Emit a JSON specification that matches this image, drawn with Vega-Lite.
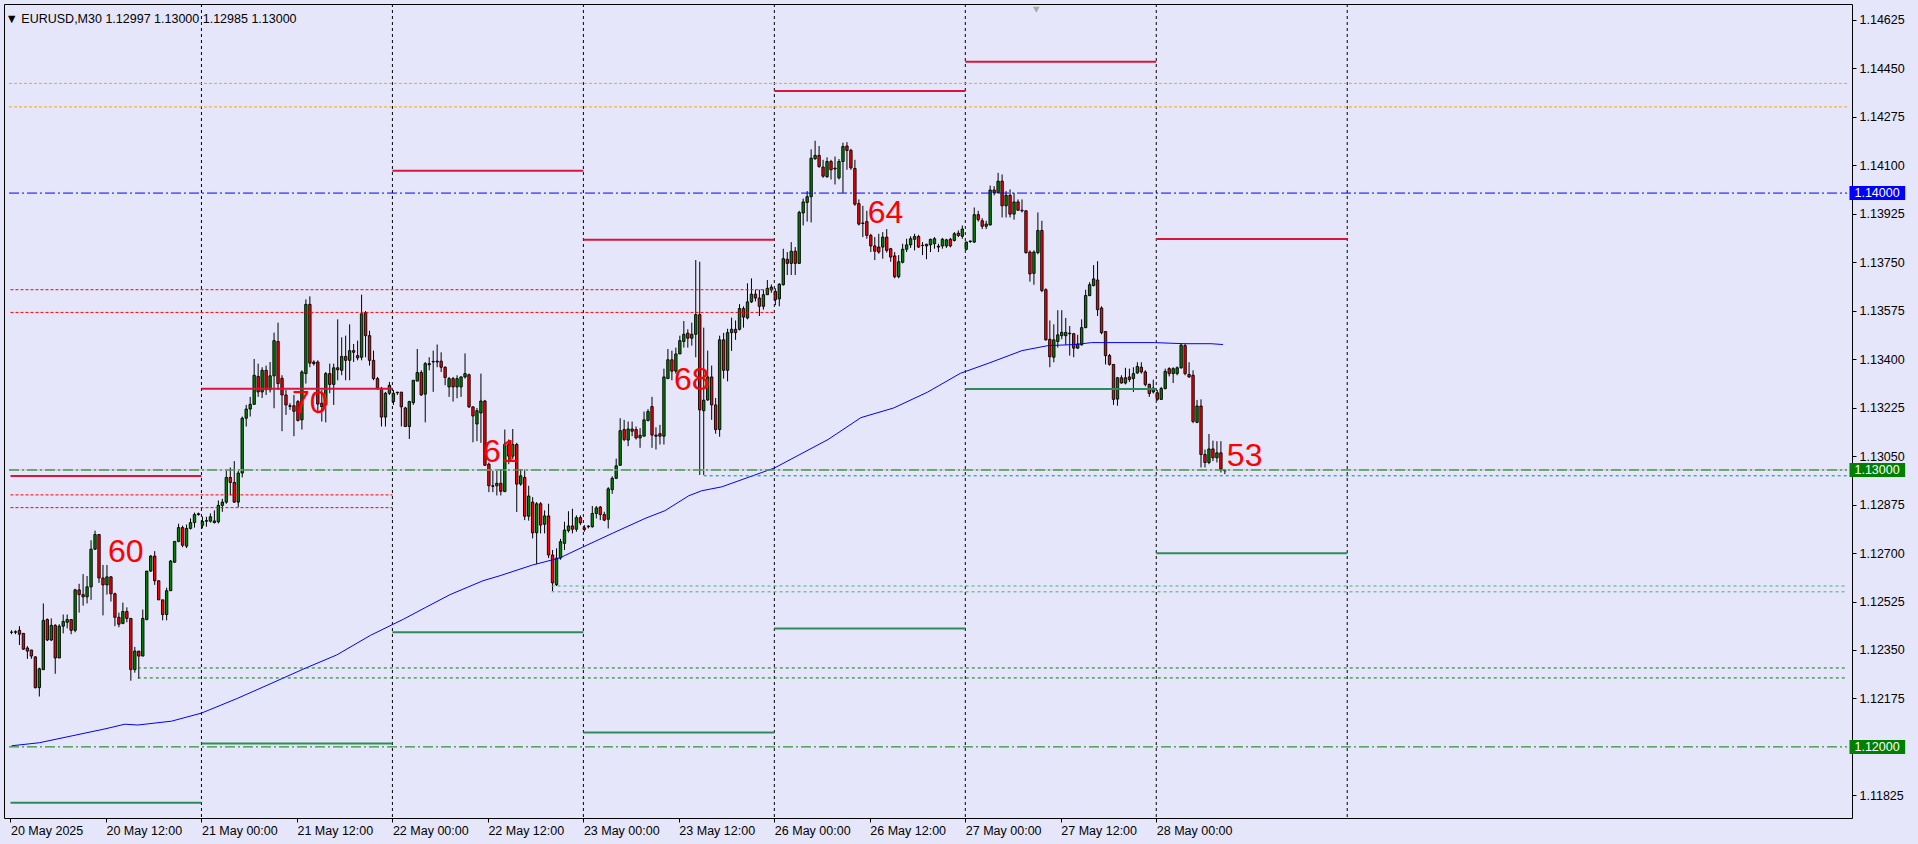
{
"$schema": "https://vega.github.io/schema/vega-lite/v6.json",
"width": 1848, "height": 814,
"autosize": {"type": "none"},
"padding": {"left": 4, "top": 4, "right": 66, "bottom": 26},
"background": "#E6E6FA",
"config": {"view": {"stroke": "#000000", "strokeWidth": 1, "fill": "#E6E6FA"}, "font": "Liberation Sans", "axis": {"grid": false, "domain": false}},
"resolve": {"scale": {"color": "independent", "strokeDash": "independent"}},
"datasets": {
"header": [{"t": "▼  EURUSD,M30  1.12997 1.13000 1.12985 1.13000"}],
"marker": [{"i": 257.6, "p": 1.14662}],
"seps": [{"i": 47.75}, {"i": 95.75}, {"i": 143.75}, {"i": 191.75}, {"i": 239.75}, {"i": 287.75}, {"i": 335.75}],
"candles": [
{"i":0,"o":1.12414,"h":1.12421,"l":1.12407,"c":1.12414},
{"i":1,"o":1.12414,"h":1.12421,"l":1.12407,"c":1.12416},
{"i":2,"o":1.12421,"h":1.12436,"l":1.12368,"c":1.12407},
{"i":3,"o":1.1241,"h":1.1241,"l":1.1235,"c":1.12353},
{"i":4,"o":1.12357,"h":1.12364,"l":1.12318,"c":1.12346},
{"i":5,"o":1.1235,"h":1.1235,"l":1.12318,"c":1.12328},
{"i":6,"o":1.12325,"h":1.12328,"l":1.12211,"c":1.12214},
{"i":7,"o":1.12214,"h":1.12286,"l":1.12182,"c":1.12282},
{"i":8,"o":1.12279,"h":1.12518,"l":1.12279,"c":1.12457},
{"i":9,"o":1.1246,"h":1.12464,"l":1.12382,"c":1.12386},
{"i":10,"o":1.12386,"h":1.12464,"l":1.12382,"c":1.12439},
{"i":11,"o":1.12439,"h":1.12443,"l":1.12264,"c":1.12321},
{"i":12,"o":1.12321,"h":1.12443,"l":1.12321,"c":1.12436},
{"i":13,"o":1.12436,"h":1.12478,"l":1.1241,"c":1.12453},
{"i":14,"o":1.1245,"h":1.12478,"l":1.12428,"c":1.1246},
{"i":15,"o":1.1246,"h":1.1246,"l":1.12407,"c":1.12421},
{"i":16,"o":1.12421,"h":1.12571,"l":1.12414,"c":1.12567},
{"i":17,"o":1.12567,"h":1.12589,"l":1.12485,"c":1.1255},
{"i":18,"o":1.1255,"h":1.12624,"l":1.1251,"c":1.12542},
{"i":19,"o":1.12542,"h":1.12617,"l":1.12518,"c":1.12578},
{"i":20,"o":1.12578,"h":1.12746,"l":1.12531,"c":1.12714},
{"i":21,"o":1.12714,"h":1.12781,"l":1.12711,"c":1.12767},
{"i":22,"o":1.12767,"h":1.12767,"l":1.12592,"c":1.1261},
{"i":23,"o":1.1261,"h":1.12657,"l":1.12475,"c":1.12585},
{"i":24,"o":1.12585,"h":1.12657,"l":1.1255,"c":1.12614},
{"i":25,"o":1.12614,"h":1.12617,"l":1.12525,"c":1.12553},
{"i":26,"o":1.12553,"h":1.12557,"l":1.12436,"c":1.12468},
{"i":27,"o":1.12468,"h":1.12485,"l":1.12432,"c":1.12443},
{"i":28,"o":1.12446,"h":1.12521,"l":1.12443,"c":1.12489},
{"i":29,"o":1.12489,"h":1.12504,"l":1.1245,"c":1.12464},
{"i":30,"o":1.12464,"h":1.12464,"l":1.12239,"c":1.12279},
{"i":31,"o":1.12279,"h":1.12361,"l":1.12268,"c":1.12346},
{"i":32,"o":1.12346,"h":1.12346,"l":1.12246,"c":1.12328},
{"i":33,"o":1.12328,"h":1.12496,"l":1.12328,"c":1.12464},
{"i":34,"o":1.1246,"h":1.12635,"l":1.12457,"c":1.12635},
{"i":35,"o":1.12635,"h":1.12693,"l":1.12632,"c":1.12689},
{"i":36,"o":1.12689,"h":1.12707,"l":1.12585,"c":1.126},
{"i":37,"o":1.126,"h":1.126,"l":1.12531,"c":1.12531},
{"i":38,"o":1.12531,"h":1.12531,"l":1.12457,"c":1.12478},
{"i":39,"o":1.12478,"h":1.12575,"l":1.12457,"c":1.12564},
{"i":40,"o":1.12564,"h":1.12675,"l":1.12564,"c":1.12671},
{"i":41,"o":1.12667,"h":1.12742,"l":1.12664,"c":1.12742},
{"i":42,"o":1.12742,"h":1.12806,"l":1.12739,"c":1.12792},
{"i":43,"o":1.12792,"h":1.12799,"l":1.12721,"c":1.12728},
{"i":44,"o":1.12725,"h":1.12803,"l":1.12718,"c":1.12789},
{"i":45,"o":1.12789,"h":1.12825,"l":1.12785,"c":1.1281},
{"i":46,"o":1.1281,"h":1.12846,"l":1.12792,"c":1.12839},
{"i":47,"o":1.12842,"h":1.12846,"l":1.12835,"c":1.12839},
{"i":48,"o":1.128,"h":1.12832,"l":1.12789,"c":1.12814},
{"i":49,"o":1.12815,"h":1.12831,"l":1.12795,"c":1.12817},
{"i":50,"o":1.12815,"h":1.12843,"l":1.1281,"c":1.12831},
{"i":51,"o":1.1281,"h":1.12854,"l":1.12807,"c":1.12816},
{"i":52,"o":1.12813,"h":1.1289,"l":1.12807,"c":1.12872},
{"i":53,"o":1.12872,"h":1.12896,"l":1.12849,"c":1.12884},
{"i":54,"o":1.12884,"h":1.12997,"l":1.12878,"c":1.12973},
{"i":55,"o":1.12973,"h":1.13009,"l":1.12908,"c":1.12955},
{"i":56,"o":1.12955,"h":1.13032,"l":1.12881,"c":1.12884},
{"i":57,"o":1.12884,"h":1.12997,"l":1.12866,"c":1.12989},
{"i":58,"o":1.12989,"h":1.13193,"l":1.12973,"c":1.13187},
{"i":59,"o":1.13187,"h":1.13235,"l":1.13157,"c":1.1322},
{"i":60,"o":1.1322,"h":1.13264,"l":1.13193,"c":1.13237},
{"i":61,"o":1.13237,"h":1.13401,"l":1.13237,"c":1.13342},
{"i":62,"o":1.13338,"h":1.13384,"l":1.13264,"c":1.13282},
{"i":63,"o":1.13282,"h":1.13371,"l":1.1326,"c":1.1336},
{"i":64,"o":1.1336,"h":1.13377,"l":1.13271,"c":1.1329},
{"i":65,"o":1.1329,"h":1.1339,"l":1.1328,"c":1.1334},
{"i":66,"o":1.1334,"h":1.13496,"l":1.13223,"c":1.13467},
{"i":67,"o":1.13464,"h":1.13532,"l":1.13289,"c":1.13312},
{"i":68,"o":1.13331,"h":1.13342,"l":1.1314,"c":1.13271},
{"i":69,"o":1.13271,"h":1.13289,"l":1.13199,"c":1.13235},
{"i":70,"o":1.13232,"h":1.13241,"l":1.13217,"c":1.1323},
{"i":71,"o":1.13232,"h":1.13271,"l":1.13122,"c":1.13212},
{"i":72,"o":1.13247,"h":1.13253,"l":1.13175,"c":1.13179},
{"i":73,"o":1.13181,"h":1.1336,"l":1.13146,"c":1.13354},
{"i":74,"o":1.13348,"h":1.13616,"l":1.13312,"c":1.13598},
{"i":75,"o":1.13598,"h":1.13627,"l":1.13371,"c":1.13386},
{"i":76,"o":1.1339,"h":1.13396,"l":1.13377,"c":1.13384},
{"i":77,"o":1.1339,"h":1.13396,"l":1.13205,"c":1.13238},
{"i":78,"o":1.13241,"h":1.13289,"l":1.13175,"c":1.13229},
{"i":79,"o":1.13235,"h":1.13354,"l":1.13172,"c":1.13348},
{"i":80,"o":1.13348,"h":1.13384,"l":1.13277,"c":1.13309},
{"i":81,"o":1.13309,"h":1.13384,"l":1.13235,"c":1.13369},
{"i":82,"o":1.13369,"h":1.13544,"l":1.13324,"c":1.13362},
{"i":83,"o":1.1336,"h":1.13479,"l":1.13342,"c":1.1341},
{"i":84,"o":1.1341,"h":1.13485,"l":1.13324,"c":1.13396},
{"i":85,"o":1.13396,"h":1.13526,"l":1.13324,"c":1.13431},
{"i":86,"o":1.13431,"h":1.13455,"l":1.1339,"c":1.13425},
{"i":87,"o":1.13413,"h":1.13467,"l":1.13396,"c":1.13405},
{"i":88,"o":1.13407,"h":1.13633,"l":1.13396,"c":1.13564},
{"i":89,"o":1.13568,"h":1.13574,"l":1.13407,"c":1.13485},
{"i":90,"o":1.13485,"h":1.13503,"l":1.13377,"c":1.13396},
{"i":91,"o":1.13396,"h":1.13431,"l":1.13324,"c":1.1333},
{"i":92,"o":1.1333,"h":1.13336,"l":1.13289,"c":1.13295},
{"i":93,"o":1.13295,"h":1.133,"l":1.13157,"c":1.13191},
{"i":94,"o":1.13191,"h":1.13282,"l":1.13157,"c":1.13277},
{"i":95,"o":1.13277,"h":1.13318,"l":1.13271,"c":1.13306},
{"i":96,"o":1.13247,"h":1.13289,"l":1.13235,"c":1.13277},
{"i":97,"o":1.13279,"h":1.13282,"l":1.13271,"c":1.13281},
{"i":98,"o":1.13281,"h":1.13282,"l":1.13157,"c":1.13228},
{"i":99,"o":1.13224,"h":1.13228,"l":1.13155,"c":1.13157},
{"i":100,"o":1.13157,"h":1.1325,"l":1.13112,"c":1.13247},
{"i":101,"o":1.13243,"h":1.13324,"l":1.13235,"c":1.13324},
{"i":102,"o":1.13321,"h":1.13437,"l":1.13321,"c":1.13352},
{"i":103,"o":1.13352,"h":1.1336,"l":1.13268,"c":1.13271},
{"i":104,"o":1.13274,"h":1.1339,"l":1.13172,"c":1.13384},
{"i":105,"o":1.1338,"h":1.13407,"l":1.1336,"c":1.13384},
{"i":106,"o":1.1339,"h":1.13431,"l":1.13282,"c":1.13392},
{"i":107,"o":1.1339,"h":1.13453,"l":1.13371,"c":1.13393},
{"i":108,"o":1.13393,"h":1.13425,"l":1.13354,"c":1.13371},
{"i":109,"o":1.13371,"h":1.13374,"l":1.13306,"c":1.13334},
{"i":110,"o":1.133,"h":1.13336,"l":1.13264,"c":1.1333},
{"i":111,"o":1.1333,"h":1.13336,"l":1.13247,"c":1.133},
{"i":112,"o":1.133,"h":1.13342,"l":1.13259,"c":1.1333},
{"i":113,"o":1.133,"h":1.13338,"l":1.13264,"c":1.13336},
{"i":114,"o":1.13336,"h":1.13421,"l":1.1333,"c":1.13348},
{"i":115,"o":1.13344,"h":1.13348,"l":1.13224,"c":1.13228},
{"i":116,"o":1.13228,"h":1.13229,"l":1.131,"c":1.13195},
{"i":117,"o":1.13166,"h":1.13224,"l":1.13104,"c":1.13214},
{"i":118,"o":1.13206,"h":1.13348,"l":1.13098,"c":1.13249},
{"i":119,"o":1.13249,"h":1.13253,"l":1.13015,"c":1.13017},
{"i":120,"o":1.13021,"h":1.13027,"l":1.1292,"c":1.12943},
{"i":121,"o":1.12943,"h":1.12997,"l":1.1292,"c":1.12941},
{"i":122,"o":1.12943,"h":1.12997,"l":1.12908,"c":1.12952},
{"i":123,"o":1.12952,"h":1.13003,"l":1.12908,"c":1.12923},
{"i":124,"o":1.12922,"h":1.13146,"l":1.1292,"c":1.13092},
{"i":125,"o":1.13092,"h":1.1311,"l":1.13021,"c":1.1305},
{"i":126,"o":1.1305,"h":1.13148,"l":1.13039,"c":1.13092},
{"i":127,"o":1.13092,"h":1.13098,"l":1.12848,"c":1.12949},
{"i":128,"o":1.12949,"h":1.13003,"l":1.12943,"c":1.12979},
{"i":129,"o":1.12973,"h":1.13003,"l":1.12819,"c":1.12833},
{"i":130,"o":1.12833,"h":1.12943,"l":1.12817,"c":1.12906},
{"i":131,"o":1.12884,"h":1.12902,"l":1.12753,"c":1.12773},
{"i":132,"o":1.12773,"h":1.12884,"l":1.1266,"c":1.12878},
{"i":133,"o":1.12878,"h":1.12884,"l":1.12771,"c":1.12801},
{"i":134,"o":1.12804,"h":1.12854,"l":1.12771,"c":1.12834},
{"i":135,"o":1.12834,"h":1.12878,"l":1.12682,"c":1.12693},
{"i":136,"o":1.12693,"h":1.12711,"l":1.12563,"c":1.12592},
{"i":137,"o":1.12586,"h":1.12717,"l":1.12581,"c":1.12682},
{"i":138,"o":1.12682,"h":1.12751,"l":1.12676,"c":1.12741},
{"i":139,"o":1.12735,"h":1.12813,"l":1.12711,"c":1.12783},
{"i":140,"o":1.12781,"h":1.12851,"l":1.12774,"c":1.12798},
{"i":141,"o":1.12798,"h":1.1286,"l":1.12771,"c":1.12786},
{"i":142,"o":1.12786,"h":1.12836,"l":1.12777,"c":1.12828},
{"i":143,"o":1.12828,"h":1.12836,"l":1.12801,"c":1.12809},
{"i":144,"o":1.12791,"h":1.12801,"l":1.12777,"c":1.12785},
{"i":145,"o":1.12795,"h":1.12801,"l":1.12789,"c":1.12797},
{"i":146,"o":1.12795,"h":1.1287,"l":1.12792,"c":1.12843},
{"i":147,"o":1.12843,"h":1.1287,"l":1.12825,"c":1.12863},
{"i":148,"o":1.12866,"h":1.1287,"l":1.12819,"c":1.12839},
{"i":149,"o":1.12839,"h":1.12849,"l":1.12815,"c":1.12819},
{"i":150,"o":1.12822,"h":1.12938,"l":1.12789,"c":1.12932},
{"i":151,"o":1.12929,"h":1.12977,"l":1.12914,"c":1.1297},
{"i":152,"o":1.1297,"h":1.13041,"l":1.12967,"c":1.13015},
{"i":153,"o":1.13017,"h":1.13187,"l":1.13015,"c":1.13142},
{"i":154,"o":1.13146,"h":1.13181,"l":1.13104,"c":1.1311},
{"i":155,"o":1.13108,"h":1.13175,"l":1.13086,"c":1.13148},
{"i":156,"o":1.13148,"h":1.13175,"l":1.13122,"c":1.1314},
{"i":157,"o":1.13146,"h":1.13157,"l":1.1311,"c":1.13116},
{"i":158,"o":1.13116,"h":1.13151,"l":1.1308,"c":1.13125},
{"i":159,"o":1.13122,"h":1.13211,"l":1.13122,"c":1.13181},
{"i":160,"o":1.13179,"h":1.1322,"l":1.13175,"c":1.13211},
{"i":161,"o":1.13229,"h":1.13264,"l":1.1308,"c":1.13126},
{"i":162,"o":1.13126,"h":1.13154,"l":1.13074,"c":1.13122},
{"i":163,"o":1.13131,"h":1.13163,"l":1.13092,"c":1.13122},
{"i":164,"o":1.13122,"h":1.13366,"l":1.13092,"c":1.13336},
{"i":165,"o":1.1333,"h":1.13437,"l":1.1333,"c":1.13398},
{"i":166,"o":1.13398,"h":1.13431,"l":1.13324,"c":1.13357},
{"i":167,"o":1.13357,"h":1.13442,"l":1.13348,"c":1.13419},
{"i":168,"o":1.13419,"h":1.13485,"l":1.13419,"c":1.13467},
{"i":169,"o":1.13464,"h":1.13538,"l":1.13442,"c":1.1349},
{"i":170,"o":1.13494,"h":1.13508,"l":1.13442,"c":1.13476},
{"i":171,"o":1.13476,"h":1.13532,"l":1.13449,"c":1.1349},
{"i":172,"o":1.1349,"h":1.13758,"l":1.13407,"c":1.13561},
{"i":173,"o":1.13561,"h":1.13752,"l":1.12982,"c":1.13217},
{"i":174,"o":1.13214,"h":1.13514,"l":1.12982,"c":1.13252},
{"i":175,"o":1.13253,"h":1.13431,"l":1.1325,"c":1.13336},
{"i":176,"o":1.13336,"h":1.13377,"l":1.13181,"c":1.13235},
{"i":177,"o":1.13235,"h":1.1326,"l":1.13131,"c":1.13146},
{"i":178,"o":1.13146,"h":1.13485,"l":1.1312,"c":1.1347},
{"i":179,"o":1.1347,"h":1.13495,"l":1.1333,"c":1.1336},
{"i":180,"o":1.1336,"h":1.1351,"l":1.1332,"c":1.13496},
{"i":181,"o":1.13496,"h":1.1355,"l":1.1343,"c":1.13508},
{"i":182,"o":1.13508,"h":1.1354,"l":1.1347,"c":1.13496},
{"i":183,"o":1.13508,"h":1.13599,"l":1.13504,"c":1.13583},
{"i":184,"o":1.13583,"h":1.13591,"l":1.13514,"c":1.13552},
{"i":185,"o":1.13549,"h":1.13674,"l":1.13544,"c":1.13607},
{"i":186,"o":1.13607,"h":1.13692,"l":1.13603,"c":1.13635},
{"i":187,"o":1.13635,"h":1.13651,"l":1.13609,"c":1.13621},
{"i":188,"o":1.13621,"h":1.13651,"l":1.13556,"c":1.13591},
{"i":189,"o":1.13591,"h":1.13651,"l":1.13579,"c":1.13633},
{"i":190,"o":1.13633,"h":1.13686,"l":1.13633,"c":1.13656},
{"i":191,"o":1.1365,"h":1.1367,"l":1.1364,"c":1.1366},
{"i":192,"o":1.13645,"h":1.13656,"l":1.13595,"c":1.13615},
{"i":193,"o":1.13618,"h":1.13674,"l":1.13591,"c":1.13671},
{"i":194,"o":1.13669,"h":1.13799,"l":1.13666,"c":1.13763},
{"i":195,"o":1.13761,"h":1.13787,"l":1.13704,"c":1.13746},
{"i":196,"o":1.13746,"h":1.13823,"l":1.13704,"c":1.1379},
{"i":197,"o":1.1379,"h":1.13805,"l":1.13704,"c":1.13746},
{"i":198,"o":1.13746,"h":1.13936,"l":1.13746,"c":1.1393},
{"i":199,"o":1.13928,"h":1.1398,"l":1.13883,"c":1.13968},
{"i":200,"o":1.13966,"h":1.14007,"l":1.13897,"c":1.13987},
{"i":201,"o":1.13987,"h":1.14158,"l":1.13894,"c":1.14126},
{"i":202,"o":1.14124,"h":1.14189,"l":1.1412,"c":1.14136},
{"i":203,"o":1.14136,"h":1.1417,"l":1.14091,"c":1.14096},
{"i":204,"o":1.14094,"h":1.1412,"l":1.14055,"c":1.14061},
{"i":205,"o":1.14059,"h":1.14129,"l":1.14055,"c":1.14114},
{"i":206,"o":1.14114,"h":1.1412,"l":1.14049,"c":1.14084},
{"i":207,"o":1.1409,"h":1.14132,"l":1.14031,"c":1.14087},
{"i":208,"o":1.14055,"h":1.14123,"l":1.14049,"c":1.14114},
{"i":209,"o":1.14114,"h":1.14182,"l":1.14001,"c":1.14168},
{"i":210,"o":1.1417,"h":1.14184,"l":1.14084,"c":1.14154},
{"i":211,"o":1.14154,"h":1.1416,"l":1.14084,"c":1.14091},
{"i":212,"o":1.14089,"h":1.1412,"l":1.13954,"c":1.1396},
{"i":213,"o":1.13962,"h":1.13977,"l":1.13883,"c":1.13888},
{"i":214,"o":1.13892,"h":1.13954,"l":1.13841,"c":1.1389},
{"i":215,"o":1.13897,"h":1.13936,"l":1.13835,"c":1.13847},
{"i":216,"o":1.13847,"h":1.13853,"l":1.13787,"c":1.13809},
{"i":217,"o":1.13809,"h":1.13841,"l":1.13758,"c":1.1379},
{"i":218,"o":1.13805,"h":1.13853,"l":1.13781,"c":1.13787},
{"i":219,"o":1.13805,"h":1.13859,"l":1.13763,"c":1.13841},
{"i":220,"o":1.13841,"h":1.1387,"l":1.13785,"c":1.13793},
{"i":221,"o":1.13799,"h":1.13802,"l":1.13752,"c":1.13769},
{"i":222,"o":1.13773,"h":1.13787,"l":1.13692,"c":1.13698},
{"i":223,"o":1.13698,"h":1.13776,"l":1.13692,"c":1.13752},
{"i":224,"o":1.1375,"h":1.13817,"l":1.13746,"c":1.13797},
{"i":225,"o":1.13797,"h":1.13835,"l":1.13787,"c":1.13813},
{"i":226,"o":1.13813,"h":1.13844,"l":1.13802,"c":1.13835},
{"i":227,"o":1.13833,"h":1.13853,"l":1.13793,"c":1.13843},
{"i":228,"o":1.13843,"h":1.13849,"l":1.13802,"c":1.13805},
{"i":229,"o":1.13811,"h":1.13823,"l":1.13776,"c":1.13811},
{"i":230,"o":1.13809,"h":1.13817,"l":1.13761,"c":1.13815},
{"i":231,"o":1.13813,"h":1.13835,"l":1.13787,"c":1.13833},
{"i":232,"o":1.13817,"h":1.13841,"l":1.13799,"c":1.13835},
{"i":233,"o":1.13808,"h":1.13817,"l":1.13787,"c":1.13805},
{"i":234,"o":1.13809,"h":1.13838,"l":1.13799,"c":1.13833},
{"i":235,"o":1.13809,"h":1.13835,"l":1.13802,"c":1.13831},
{"i":236,"o":1.13833,"h":1.13838,"l":1.13804,"c":1.13809},
{"i":237,"o":1.13829,"h":1.13859,"l":1.13825,"c":1.13853},
{"i":238,"o":1.13855,"h":1.13865,"l":1.13841,"c":1.13847},
{"i":239,"o":1.13844,"h":1.13883,"l":1.13835,"c":1.1387},
{"i":240,"o":1.13797,"h":1.13825,"l":1.13793,"c":1.13823},
{"i":241,"o":1.13825,"h":1.13828,"l":1.1382,"c":1.13827},
{"i":242,"o":1.13823,"h":1.13948,"l":1.1382,"c":1.13922},
{"i":243,"o":1.13922,"h":1.13936,"l":1.13897,"c":1.13904},
{"i":244,"o":1.139,"h":1.13909,"l":1.1387,"c":1.1388},
{"i":245,"o":1.1388,"h":1.139,"l":1.1387,"c":1.13888},
{"i":246,"o":1.13885,"h":1.14027,"l":1.13883,"c":1.14011},
{"i":247,"o":1.14011,"h":1.14025,"l":1.13992,"c":1.14001},
{"i":248,"o":1.14001,"h":1.14073,"l":1.13999,"c":1.14043},
{"i":249,"o":1.14043,"h":1.14067,"l":1.13912,"c":1.13954},
{"i":250,"o":1.13954,"h":1.14007,"l":1.13912,"c":1.13992},
{"i":251,"o":1.13992,"h":1.14013,"l":1.13912,"c":1.13924},
{"i":252,"o":1.13924,"h":1.14001,"l":1.13904,"c":1.13968},
{"i":253,"o":1.13968,"h":1.13977,"l":1.13936,"c":1.13938},
{"i":254,"o":1.13938,"h":1.13977,"l":1.1393,"c":1.13936},
{"i":255,"o":1.13936,"h":1.13938,"l":1.13781,"c":1.13785},
{"i":256,"o":1.13787,"h":1.13793,"l":1.1368,"c":1.13708},
{"i":257,"o":1.1371,"h":1.13793,"l":1.13669,"c":1.13787},
{"i":258,"o":1.13785,"h":1.1393,"l":1.13779,"c":1.13865},
{"i":259,"o":1.13865,"h":1.139,"l":1.13642,"c":1.13648},
{"i":260,"o":1.13651,"h":1.13656,"l":1.13467,"c":1.1347},
{"i":261,"o":1.13472,"h":1.1354,"l":1.13371,"c":1.13409},
{"i":262,"o":1.13407,"h":1.13526,"l":1.13389,"c":1.1347},
{"i":263,"o":1.13464,"h":1.13577,"l":1.13442,"c":1.13488},
{"i":264,"o":1.13485,"h":1.13577,"l":1.13472,"c":1.13497},
{"i":265,"o":1.13485,"h":1.13549,"l":1.13452,"c":1.13497},
{"i":266,"o":1.13494,"h":1.1352,"l":1.13413,"c":1.13492},
{"i":267,"o":1.13492,"h":1.13495,"l":1.13407,"c":1.1344},
{"i":268,"o":1.1344,"h":1.13488,"l":1.13437,"c":1.13455},
{"i":269,"o":1.13452,"h":1.13544,"l":1.13449,"c":1.13514},
{"i":270,"o":1.13514,"h":1.13651,"l":1.13512,"c":1.1363},
{"i":271,"o":1.1363,"h":1.13678,"l":1.13627,"c":1.13669},
{"i":272,"o":1.13666,"h":1.1374,"l":1.13663,"c":1.1369},
{"i":273,"o":1.13686,"h":1.13754,"l":1.13556,"c":1.13579},
{"i":274,"o":1.13585,"h":1.13591,"l":1.1349,"c":1.13496},
{"i":275,"o":1.135,"h":1.13502,"l":1.13381,"c":1.13413},
{"i":276,"o":1.13413,"h":1.13419,"l":1.13377,"c":1.13381},
{"i":277,"o":1.13381,"h":1.13383,"l":1.13235,"c":1.13255},
{"i":278,"o":1.13256,"h":1.13336,"l":1.13232,"c":1.13333},
{"i":279,"o":1.13333,"h":1.13342,"l":1.13312,"c":1.13314},
{"i":280,"o":1.13314,"h":1.13369,"l":1.13309,"c":1.13333},
{"i":281,"o":1.13336,"h":1.13366,"l":1.13318,"c":1.13327},
{"i":282,"o":1.1333,"h":1.13371,"l":1.13282,"c":1.13348},
{"i":283,"o":1.1335,"h":1.13389,"l":1.13348,"c":1.13374},
{"i":284,"o":1.13371,"h":1.13389,"l":1.13348,"c":1.13354},
{"i":285,"o":1.13354,"h":1.1336,"l":1.13302,"c":1.13309},
{"i":286,"o":1.13309,"h":1.13312,"l":1.13264,"c":1.13276},
{"i":287,"o":1.13282,"h":1.13326,"l":1.13276,"c":1.13296},
{"i":288,"o":1.13279,"h":1.13289,"l":1.1325,"c":1.13255},
{"i":289,"o":1.13255,"h":1.133,"l":1.13253,"c":1.13294},
{"i":290,"o":1.13294,"h":1.13366,"l":1.13291,"c":1.13356},
{"i":291,"o":1.13366,"h":1.13371,"l":1.13338,"c":1.13348},
{"i":292,"o":1.13348,"h":1.13371,"l":1.13314,"c":1.13366},
{"i":293,"o":1.13348,"h":1.13374,"l":1.13342,"c":1.13369},
{"i":294,"o":1.13369,"h":1.13457,"l":1.13366,"c":1.13451},
{"i":295,"o":1.13449,"h":1.13457,"l":1.13342,"c":1.13348},
{"i":296,"o":1.13345,"h":1.13389,"l":1.13333,"c":1.13336},
{"i":297,"o":1.13342,"h":1.1336,"l":1.13169,"c":1.13175},
{"i":298,"o":1.13172,"h":1.13253,"l":1.13169,"c":1.13231},
{"i":299,"o":1.13231,"h":1.13255,"l":1.13009,"c":1.13056},
{"i":300,"o":1.13056,"h":1.13074,"l":1.13009,"c":1.13027},
{"i":301,"o":1.13027,"h":1.1313,"l":1.13021,"c":1.13076},
{"i":302,"o":1.13076,"h":1.13106,"l":1.13032,"c":1.13044},
{"i":303,"o":1.13044,"h":1.13104,"l":1.13027,"c":1.13062},
{"i":304,"o":1.13062,"h":1.13104,"l":1.12991,"c":1.13003},
{"i":305,"o":1.12997,"h":1.13,"l":1.12985,"c":1.13}
],
"ma": [
{"i":0,"p":1.12004},{"i":7,"p":1.12015},{"i":15.25,"p":1.1204},{"i":23.5,"p":1.12065},{"i":28.5,"p":1.12082},{"i":31.75,"p":1.12079},{"i":40.25,"p":1.12093},{"i":47.75,"p":1.12122},{"i":56.75,"p":1.12175},{"i":65.25,"p":1.12229},{"i":73.5,"p":1.12282},{"i":81.75,"p":1.12332},{"i":90.25,"p":1.12403},{"i":98.5,"p":1.12461},{"i":104,"p":1.12503},{"i":110.25,"p":1.1255},{"i":118.5,"p":1.126},{"i":122.75,"p":1.12618},{"i":131,"p":1.12657},{"i":137.75,"p":1.12682},{"i":143.5,"p":1.12721},{"i":151,"p":1.12771},{"i":159.25,"p":1.12825},{"i":164.25,"p":1.12853},{"i":170.25,"p":1.12907},{"i":173.5,"p":1.12925},{"i":178.5,"p":1.12939},{"i":191.75,"p":1.13007},{"i":205.25,"p":1.1311},{"i":213.5,"p":1.13189},{"i":221.75,"p":1.13224},{"i":230.25,"p":1.13281},{"i":238.5,"p":1.13349},{"i":245.5,"p":1.13385},{"i":254,"p":1.13431},{"i":260.5,"p":1.13449},{"i":267.25,"p":1.13453},{"i":271.5,"p":1.1346},{"i":287.25,"p":1.1346},{"i":294.75,"p":1.13456},{"i":301.5,"p":1.13456},{"i":304.5,"p":1.13453}
],
"thin": [
{"k":"bid","x0":-0.625,"x1":461.375,"p":1.13},
{"k":"rd","x0":-0.25,"x1":95.75,"p":1.1291},
{"k":"rd","x0":-0.25,"x1":95.75,"p":1.12864},
{"k":"rd","x0":-0.25,"x1":191.75,"p":1.13651},
{"k":"rd","x0":-0.25,"x1":191.75,"p":1.13569},
{"k":"od","x0":-0.625,"x1":461.375,"p":1.14396},
{"k":"od","x0":-0.625,"x1":461.375,"p":1.14311},
{"k":"bdd","x0":-0.625,"x1":461.375,"p":1.14},
{"k":"gdd","x0":-0.625,"x1":461.375,"p":1.13},
{"k":"gdd","x0":-0.625,"x1":461.375,"p":1.12},
{"k":"gd","x0":31.75,"x1":461.375,"p":1.12285},
{"k":"gd","x0":31.75,"x1":461.375,"p":1.12249},
{"k":"lgd","x0":135.75,"x1":461.375,"p":1.12581},
{"k":"lgd","x0":135.75,"x1":461.375,"p":1.1256},
{"k":"td","x0":174,"x1":461.375,"p":1.12979}
],
"pivots": [
{"k":"high","x0":-0.25,"x1":47.75,"p":1.12978},
{"k":"high","x0":47.75,"x1":95.75,"p":1.13293},
{"k":"high","x0":95.75,"x1":143.75,"p":1.14081},
{"k":"high","x0":143.75,"x1":191.75,"p":1.13831},
{"k":"high","x0":191.75,"x1":239.75,"p":1.14369},
{"k":"high","x0":239.75,"x1":287.75,"p":1.14474},
{"k":"high","x0":287.75,"x1":335.75,"p":1.13834},
{"k":"low","x0":-0.25,"x1":47.75,"p":1.11798},
{"k":"low","x0":47.75,"x1":95.75,"p":1.12012},
{"k":"low","x0":95.75,"x1":143.75,"p":1.12414},
{"k":"low","x0":143.75,"x1":191.75,"p":1.12052},
{"k":"low","x0":191.75,"x1":239.75,"p":1.12428},
{"k":"low","x0":239.75,"x1":287.75,"p":1.13292},
{"k":"low","x0":287.75,"x1":335.75,"p":1.12699}
],
"labels": [
{"t":"60","i":24.25,"p":1.12667},
{"t":"70","i":70.5,"p":1.13207},
{"t":"61","i":118.5,"p":1.13028},
{"t":"68","i":166.5,"p":1.13289},
{"t":"64","i":215.25,"p":1.13891},
{"t":"53","i":305.5,"p":1.13014}
],
"boxes": [
{"k":"blue","p":1.14,"t":"1.14000"},
{"k":"green","p":1.13,"t":"1.13000"},
{"k":"green","p":1.12,"t":"1.12000"}
]
},
"layer": [
{"data": {"name": "seps"},
 "mark": {"type": "rule", "color": "#000000", "strokeWidth": 1, "strokeDash": [3, 3]},
 "encoding": {"x": {"field": "i", "type": "quantitative", "title": null, "scale": {"domain": [-0.625, 461.375], "nice": false, "zero": false}}}},
{"data": {"name": "candles"},
 "mark": {"type": "rule", "color": "#000000", "strokeWidth": 1},
 "encoding": {
  "x": {"field": "i", "type": "quantitative", "title": null, "scale": {"domain": [-0.625, 461.375], "nice": false, "zero": false},
   "axis": {"orient": "bottom", "values": [-0.25, 23.75, 47.75, 71.75, 95.75, 119.75, 143.75, 167.75, 191.75, 215.75, 239.75, 263.75, 287.75],
    "labelExpr": "['20 May 2025','20 May 12:00','21 May 00:00','21 May 12:00','22 May 00:00','22 May 12:00','23 May 00:00','23 May 12:00','26 May 00:00','26 May 12:00','27 May 00:00','27 May 12:00','28 May 00:00'][round((datum.value+0.25)/24)]",
    "labelAlign": "left", "labelBaseline": "top", "labelFont": "Liberation Sans", "labelFontSize": 12.5, "labelColor": "#000000", "labelPadding": 2,
    "tickColor": "#000000", "tickSize": 4, "domain": false, "grid": false, "title": null, "labelOverlap": false, "labelFlush": false, "labelBound": false}},
  "y": {"field": "l", "type": "quantitative", "title": null, "scale": {"domain": [1.117613, 1.146647], "nice": false, "zero": false},
   "axis": {"orient": "right", "values": [1.11825, 1.12, 1.12175, 1.1235, 1.12525, 1.127, 1.12875, 1.1305, 1.13225, 1.134, 1.13575, 1.1375, 1.13925, 1.141, 1.14275, 1.1445, 1.14625],
    "format": ".5f", "labelExpr": "abs(datum.value - 1.12) < 0.00001 ? '' : datum.label",
    "labelFont": "Liberation Sans", "labelFontSize": 12.5, "labelColor": "#000000", "labelPadding": 3, "labelAlign": "left", "labelBaseline": "middle",
    "tickColor": "#000000", "tickSize": 4, "domain": false, "grid": false, "title": null, "labelOverlap": false, "labelFlush": false, "labelBound": false}},
  "y2": {"field": "h"}}},
{"data": {"name": "candles"},
 "mark": {"type": "bar", "size": 2.4, "stroke": "#000000", "strokeWidth": 0.9},
 "encoding": {
  "x": {"field": "i", "type": "quantitative", "title": null, "scale": {"domain": [-0.625, 461.375], "nice": false, "zero": false}},
  "y": {"field": "o", "type": "quantitative", "title": null, "scale": {"domain": [1.117613, 1.146647], "nice": false, "zero": false}},
  "y2": {"field": "c"},
  "fill": {"condition": {"test": "datum.c >= datum.o", "value": "#008000"}, "value": "#FF0000"}}},
{"data": {"name": "ma"},
 "mark": {"type": "line", "color": "#0000FF", "strokeWidth": 1},
 "encoding": {
  "x": {"field": "i", "type": "quantitative", "title": null, "scale": {"domain": [-0.625, 461.375], "nice": false, "zero": false}},
  "y": {"field": "p", "type": "quantitative", "title": null, "scale": {"domain": [1.117613, 1.146647], "nice": false, "zero": false}}}},
{"data": {"name": "thin"},
 "mark": {"type": "rule", "strokeWidth": 1},
 "encoding": {
  "x": {"field": "x0", "type": "quantitative", "title": null, "scale": {"domain": [-0.625, 461.375], "nice": false, "zero": false}},
  "x2": {"field": "x1"},
  "y": {"field": "p", "type": "quantitative", "title": null, "scale": {"domain": [1.117613, 1.146647], "nice": false, "zero": false}},
  "color": {"field": "k", "type": "nominal", "legend": null, "scale": {"domain": ["bid","rd","od","bdd","gdd","gd","lgd","td"], "range": ["#C0C0C0","#FF0000","#FFA500","#0000FF","#008000","#008000","#3CB371","#008B8B"]}},
  "strokeDash": {"field": "k", "type": "nominal", "legend": null, "scale": {"domain": ["bid","rd","od","bdd","gdd","gd","lgd","td"], "range": [[1,0],[3,2],[3,2],[10,3,2,3],[10,3,2,3],[3,3],[3,3],[3,3]]}}}},
{"data": {"name": "pivots"},
 "mark": {"type": "rule", "strokeWidth": 2},
 "encoding": {
  "x": {"field": "x0", "type": "quantitative", "title": null, "scale": {"domain": [-0.625, 461.375], "nice": false, "zero": false}},
  "x2": {"field": "x1"},
  "y": {"field": "p", "type": "quantitative", "title": null, "scale": {"domain": [1.117613, 1.146647], "nice": false, "zero": false}},
  "color": {"condition": {"test": "datum.k == 'high'", "value": "#DC143C"}, "value": "#2E8B57"}}},
{"data": {"name": "labels"},
 "mark": {"type": "text", "align": "left", "baseline": "alphabetic", "font": "Liberation Sans", "fontSize": 32, "color": "#FF0000"},
 "encoding": {
  "x": {"field": "i", "type": "quantitative", "title": null, "scale": {"domain": [-0.625, 461.375], "nice": false, "zero": false}},
  "y": {"field": "p", "type": "quantitative", "title": null, "scale": {"domain": [1.117613, 1.146647], "nice": false, "zero": false}},
  "text": {"field": "t"}}},
{"data": {"name": "header"},
 "mark": {"type": "text", "align": "left", "baseline": "alphabetic", "font": "Liberation Sans", "fontSize": 12.5, "color": "#000000"},
 "encoding": {
  "x": {"datum": -1.5, "type": "quantitative", "title": null, "scale": {"domain": [-0.625, 461.375], "nice": false, "zero": false}},
  "y": {"datum": 1.14613, "type": "quantitative", "title": null, "scale": {"domain": [1.117613, 1.146647], "nice": false, "zero": false}},
  "text": {"field": "t"}}},
{"data": {"name": "marker"},
 "mark": {"type": "point", "shape": "triangle-down", "filled": true, "size": 45, "color": "#A9A9A9", "opacity": 1},
 "encoding": {
  "x": {"field": "i", "type": "quantitative", "title": null, "scale": {"domain": [-0.625, 461.375], "nice": false, "zero": false}},
  "y": {"field": "p", "type": "quantitative", "title": null, "scale": {"domain": [1.117613, 1.146647], "nice": false, "zero": false}}}},
{"data": {"name": "boxes"},
 "mark": {"type": "bar", "orient": "horizontal", "size": 14},
 "encoding": {
  "x": {"datum": 462, "type": "quantitative", "title": null, "scale": {"domain": [-0.625, 461.375], "nice": false, "zero": false}},
  "x2": {"datum": 476},
  "y": {"field": "p", "type": "quantitative", "title": null, "scale": {"domain": [1.117613, 1.146647], "nice": false, "zero": false}},
  "fill": {"condition": {"test": "datum.k == 'blue'", "value": "#0000FF"}, "value": "#008000"}}},
{"data": {"name": "boxes"},
 "mark": {"type": "text", "align": "left", "baseline": "middle", "font": "Liberation Sans", "fontSize": 12.5, "color": "#FFFFFF"},
 "encoding": {
  "x": {"datum": 463.25, "type": "quantitative", "title": null, "scale": {"domain": [-0.625, 461.375], "nice": false, "zero": false}},
  "y": {"field": "p", "type": "quantitative", "title": null, "scale": {"domain": [1.117613, 1.146647], "nice": false, "zero": false}},
  "text": {"field": "t"}}}
]
}
